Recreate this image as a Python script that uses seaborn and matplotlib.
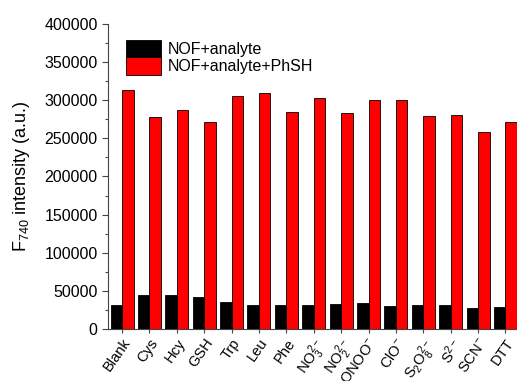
import matplotlib
matplotlib.use("Agg")
import matplotlib.pyplot as plt
from matplotlib.ticker import MultipleLocator
import seaborn as sns
import pandas as pd

analytes = ["Blank", "Cys", "Hcy", "GSH", "Trp", "Leu", "Phe",
            r"NO$_3^{2-}$", r"NO$_2^{2-}$", r"ONOO$^{-}$", r"ClO$^{-}$",
            r"S$_2$O$_8^{2-}$", r"S$^{2-}$", r"SCN$^{-}$", "DTT"]
nof_analyte = [31000, 44000, 45000, 42000, 36000, 31000, 32000, 31000,
               33000, 34000, 30000, 31000, 31000, 28000, 29000]
nof_analyte_phsh = [313000, 278000, 287000, 271000, 305000, 309000, 285000,
                    303000, 283000, 300000, 300000, 279000, 281000, 259000, 271000]
series_names = ["NOF+analyte", "NOF+analyte+PhSH"]

df = pd.DataFrame({
    "analyte": analytes * 2,
    "value": nof_analyte + nof_analyte_phsh,
    "series": [series_names[0]] * len(analytes) + [series_names[1]] * len(analytes),
})

sns.set_style("ticks")
plt.rcParams["font.family"] = ["Liberation Sans", "DejaVu Sans"]
plt.rcParams["text.color"] = "black"
plt.rcParams["axes.labelcolor"] = "black"
plt.rcParams["mathtext.fontset"] = "custom"
plt.rcParams["mathtext.rm"] = "Liberation Sans"
plt.rcParams["mathtext.it"] = "Liberation Sans"

fig = plt.figure(figsize=(5.17, 3.81), dpi=100)
ax = fig.add_axes([0.209, 0.1365, 0.791, 0.8005])

sns.barplot(data=df, x="analyte", y="value", hue="series",
            palette=["#000000", "#ff0000"], saturation=1, width=0.84,
            edgecolor="black", linewidth=0.6, ax=ax, legend=True)

ax.set_xlim(-0.51, 14.42)
ax.set_ylim(0, 400000)
ax.yaxis.set_major_locator(MultipleLocator(50000))
ax.yaxis.set_minor_locator(MultipleLocator(25000))
ax.tick_params(axis="y", which="major", length=4, width=0.8, labelsize=11.5,
               direction="out", colors="#444444", labelcolor="black")
ax.tick_params(axis="y", which="minor", length=2.5, width=0.8, direction="out",
               colors="#444444")
ax.tick_params(axis="x", which="major", length=3, width=0.8, labelsize=10.5,
               pad=2, direction="out", colors="#444444", labelcolor="black")
for lab in ax.get_xticklabels():
    lab.set_rotation(55)
    lab.set_ha("right")
    lab.set_rotation_mode("anchor")

ax.set_xlabel("")
ax.set_ylabel(r"F$_{740}$ intensity (a.u.)", fontsize=13, labelpad=9)

for side in ("top", "right"):
    ax.spines[side].set_visible(False)
for side in ("left", "bottom"):
    ax.spines[side].set_color("#444444")
    ax.spines[side].set_linewidth(0.8)

handles, labels = ax.get_legend_handles_labels()
ax.legend(handles, labels, loc="upper left", bbox_to_anchor=(0.02, 0.98),
          frameon=False, fontsize=11.5, handlelength=2.2, handleheight=1.3,
          handletextpad=0.45, labelspacing=0.0, borderaxespad=0.2)

fig.savefig("out.png", dpi=100)
